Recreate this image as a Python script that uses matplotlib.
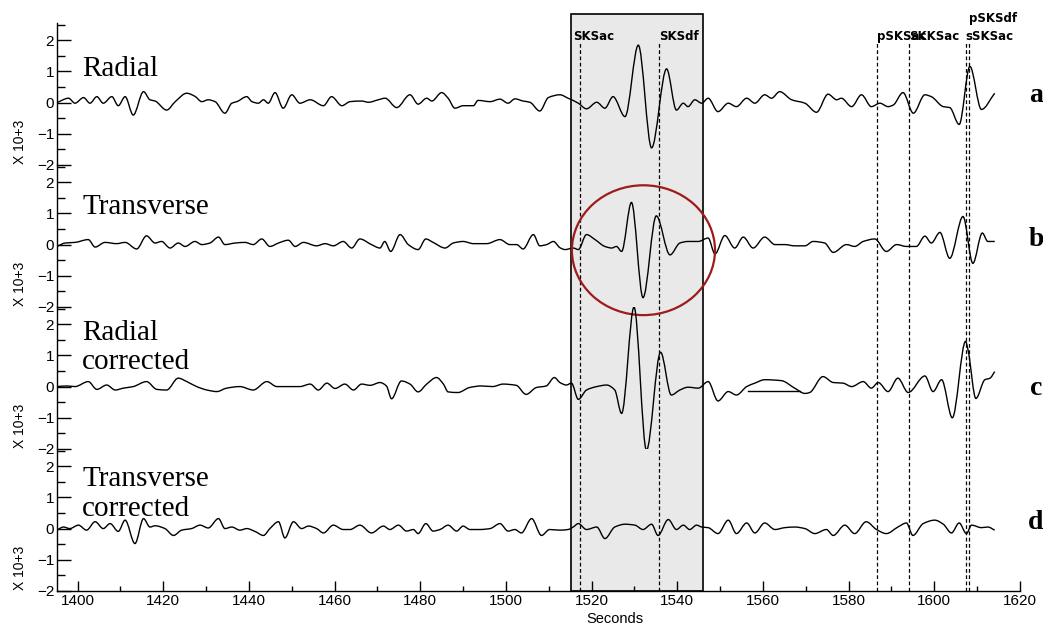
import numpy as np
import matplotlib
matplotlib.use("Agg")
import matplotlib.pyplot as plt
import matplotlib.transforms as mtransforms
from matplotlib.patches import Rectangle, Ellipse, PathPatch
from matplotlib.path import Path
from matplotlib.lines import Line2D
from matplotlib.ticker import MultipleLocator

plt.rcParams['font.family'] = ['Liberation Sans Narrow', 'Liberation Sans', 'DejaVu Sans']

# --- traces: time (s), amplitude (x 10^3) ---
rad_t = [1395.2, 1397.9, 1399.4, 1401.4, 1402.9, 1404.5, 1406.0, 1408.0, 1409.5, 1411.1,
         1413.0, 1415.4, 1416.9, 1418.1, 1420.8, 1422.8, 1425.5, 1427.4, 1429.0, 1430.5,
         1432.1, 1434.4, 1436.0, 1437.2, 1439.5, 1440.7, 1442.2, 1443.4, 1444.5, 1446.1,
         1448.0, 1450.0, 1451.9,
         1454.3, 1457.4, 1459.3, 1461.7, 1463.6, 1466.3, 1467.9, 1470.2, 1471.8, 1474.5,
         1477.6, 1479.5, 1481.5, 1482.7, 1485.0, 1486.5, 1488.1, 1490.0, 1492.4, 1493.5,
         1496.3, 1498.6, 1500.5, 1502.1, 1504.0, 1505.6, 1507.9, 1509.9, 1512.6,
         1514.5, 1516.9, 1518.8, 1521.2, 1523.1, 1525.0, 1527.8, 1530.9, 1534.0, 1537.5,
         1539.8, 1541.4, 1542.5, 1544.1, 1545.7, 1547.2, 1549.5, 1551.9, 1553.8, 1556.2,
         1558.1, 1560.4, 1562.0, 1563.9, 1566.7, 1569.8,
         1572.5, 1575.2, 1577.2, 1578.3, 1580.7, 1583.0, 1585.3, 1587.3, 1589.2, 1590.4,
         1592.7, 1595.1, 1597.8, 1599.3, 1602.1, 1603.6, 1605.8, 1608.3, 1611.0, 1614.1]
rad_v = [0.0, 0.14, -0.02, 0.16, -0.02, 0.19, -0.02, 0.19, -0.1, 0.19,
         -0.4, 0.35, 0.09, 0.05, -0.24, 0.03, 0.3, 0.2, 0.03, 0.09,
         0.03, -0.34, -0.02, 0.03, 0.19, 0.03, -0.02, 0.09, -0.02, 0.32,
         -0.18, 0.25, -0.02,
         0.09, -0.1, 0.19, -0.1, 0.03, 0.05, 0.01, 0.09, 0.14, -0.16,
         0.25, -0.05, 0.14, 0.05, 0.32, 0.14, -0.18, -0.1, -0.1, 0.07,
         0.03, 0.11, -0.02, 0.12, 0.05, 0.01, -0.27, 0.16, 0.25,
         0.14, -0.02, -0.2, 0.01, -0.18, 0.19, -0.45, 1.84, -1.45, 1.08,
         -0.24, -0.02, -0.13, 0.09, -0.02, 0.14, -0.29, -0.02, -0.13, 0.14,
         -0.02, 0.25, 0.14, 0.35, 0.09, -0.02,
         -0.31, 0.27, 0.09, 0.14, -0.13, 0.25, -0.13, -0.02, -0.13, -0.08,
         0.32, -0.34, 0.25, 0.19, -0.13, -0.16, -0.7, 1.16, -0.22, 0.3]

trn_t = [1395.2, 1397.1, 1399.4, 1402.5, 1404.1, 1406.4, 1409.1, 1411.1, 1413.8, 1416.1,
         1418.1, 1419.6, 1421.6, 1423.5, 1425.1, 1427.4, 1429.0, 1430.9, 1432.9, 1434.4,
         1436.8, 1439.1, 1441.0, 1443.0, 1444.9, 1446.9, 1449.2, 1450.8, 1452.7,
         1455.8, 1457.8, 1459.7, 1462.0, 1464.0, 1465.9, 1468.6, 1470.6, 1471.7, 1473.1,
         1475.3, 1477.2, 1479.5, 1481.3, 1483.0, 1485.8, 1487.7, 1490.0, 1492.4, 1495.5,
         1498.6, 1500.9, 1502.5, 1504.0, 1506.4, 1507.9, 1509.5, 1511.1, 1512.6,
         1513.8, 1515.7, 1516.9, 1518.8, 1520.8, 1523.1, 1524.7, 1525.8, 1527.0, 1529.3,
         1532.0, 1535.1, 1538.3, 1540.6, 1542.5, 1544.9, 1547.2, 1548.8, 1551.1, 1553.4,
         1555.4, 1557.7, 1560.4, 1562.8, 1565.1, 1567.4, 1569.8,
         1571.7, 1574.4, 1576.4, 1579.5, 1581.4, 1583.4, 1586.1, 1588.8, 1591.2, 1593.5,
         1595.8, 1597.8, 1599.3, 1601.3, 1603.6, 1606.7, 1609.0, 1611.2, 1612.5, 1614.1]
trn_v = [-0.06, 0.05, 0.07, 0.16, -0.08, 0.07, 0.03, 0.07, -0.14, 0.28,
         0.05, 0.1, -0.11, 0.05, -0.06, 0.1, 0.0, 0.05, 0.24, 0.0,
         0.05, 0.07, 0.0, 0.18, -0.06, 0.05, 0.14, -0.06, 0.07,
         -0.04, 0.03, -0.04, 0.1, -0.11, 0.18, 0.0, -0.11, 0.1, -0.22,
         0.32, 0.0, -0.16, 0.18, 0.07, -0.11, 0.05, 0.1, 0.03, 0.03,
         0.16, 0.0, 0.0, -0.14, 0.32, -0.04, 0.0, 0.1, -0.1,
         -0.16, -0.11, -0.16, 0.32, 0.16, -0.06, -0.11, -0.06, -0.22, 1.35,
         -1.7, 0.92, -0.33, 0.05, 0.1, 0.1, 0.21, -0.3, 0.29, -0.11,
         0.24, -0.11, 0.24, 0.0, 0.0, -0.04, -0.04,
         0.1, 0.05, -0.25, 0.0, -0.06, 0.1, 0.18, -0.22, 0.0, -0.06,
         -0.06, 0.27, 0.05, 0.39, -0.44, 0.9, -0.6, 0.37, 0.1, 0.1]

radc_t = [1395.2, 1397.5, 1399.4, 1402.5, 1404.5, 1406.8, 1408.8, 1410.7, 1413.0, 1416.1,
          1418.5, 1420.8, 1423.5, 1425.5, 1427.8, 1430.2, 1432.5, 1434.8, 1437.9, 1441.0,
          1444.2, 1446.5, 1449.6, 1451.9,
          1454.3, 1456.2, 1458.2, 1460.1, 1462.4, 1464.4, 1466.3, 1468.3, 1470.6, 1472.1,
          1473.3, 1475.6, 1477.6, 1479.5, 1481.5, 1483.8, 1485.4, 1486.5, 1488.8, 1491.5,
          1494.2, 1496.9, 1499.3, 1502.4, 1504.7, 1507.1, 1509.4, 1511.3, 1512.6,
          1514.1, 1515.3, 1516.9, 1518.8, 1521.2, 1523.5, 1525.4, 1527.0, 1529.9, 1532.8,
          1536.1, 1538.6, 1540.6, 1542.5, 1544.9, 1547.2, 1549.5, 1551.9, 1553.8, 1556.2,
          1558.1, 1560.4, 1564.3, 1567.4, 1569.8,
          1570.9, 1574.0, 1576.4, 1578.7, 1580.7, 1583.4, 1585.3, 1586.9, 1589.2, 1591.5,
          1593.9, 1597.8, 1599.7, 1601.7, 1604.2, 1607.3, 1607.9, 1609.7, 1611.8, 1613.0,
          1614.1]
radc_v = [0.0, 0.02, 0.0, 0.16, -0.09, 0.05, -0.11, -0.05, 0.0, 0.16,
          -0.09, -0.11, 0.27, 0.16, 0.0, -0.11, -0.16, -0.05, 0.0, -0.11,
          0.16, 0.0, 0.0, 0.0,
          0.08, -0.11, 0.11, -0.06, 0.08, -0.11, 0.08, 0.04, 0.13, 0.02,
          -0.39, 0.18, 0.08, -0.17, 0.08, 0.29, 0.08, -0.17, -0.19, -0.03,
          0.02, 0.0, 0.08, 0.04, -0.25, -0.03, 0.02, 0.29, 0.13,
          0.05, 0.11, -0.41, -0.11, 0.0, 0.05, -0.11, -0.86, 2.55, -2.04,
          1.1, -0.27, -0.11, -0.02, -0.05, 0.16, -0.46, -0.16, -0.27, 0.0,
          0.11, 0.22, 0.19, -0.05, -0.22,
          -0.19, 0.32, 0.13, 0.11, 0.0, 0.16, -0.05, 0.13, -0.16, 0.27,
          -0.19, 0.34, -0.16, 0.22, -1.0, 1.45, 1.15, -0.38, 0.22, 0.27,
          0.48]
# stray flat segment drawn under the radial-corrected trace
radc_flat_t = [1556.5, 1568.7]
radc_flat_v = [-0.13, -0.13]

trnc_t = [1395.2, 1396.7, 1398.2, 1400.2, 1402.1, 1404.1, 1406.0, 1407.6, 1409.5, 1411.1,
          1413.4, 1415.4, 1416.9, 1418.1, 1420.4, 1422.4, 1424.3, 1426.6, 1428.6, 1430.5,
          1432.9, 1434.4, 1436.0, 1437.9, 1439.5, 1441.4, 1443.4, 1444.9, 1446.9, 1448.4,
          1450.4, 1452.3,
          1453.9, 1455.8, 1457.4, 1459.7, 1462.0, 1463.6, 1465.9, 1468.6, 1471.4, 1472.9,
          1474.9, 1476.8, 1478.4, 1479.5, 1481.3, 1483.0, 1484.6, 1486.5, 1488.5, 1490.0,
          1491.6, 1493.9, 1496.3, 1498.6, 1500.5, 1502.1, 1503.6, 1506.0, 1508.3, 1510.2,
          1512.6,
          1514.5, 1515.7, 1516.9, 1518.8, 1521.2, 1523.1, 1525.4, 1527.8, 1530.1, 1532.0,
          1534.0, 1535.5, 1537.9, 1539.8, 1541.4, 1542.9, 1544.5, 1545.7, 1547.2, 1549.5,
          1551.9, 1553.8, 1556.2, 1558.1, 1560.4, 1562.8, 1565.1, 1567.4, 1569.8,
          1572.1, 1574.8, 1576.4, 1579.1, 1581.4, 1584.1, 1586.5, 1588.8, 1591.5, 1593.5,
          1595.0, 1597.4, 1600.1, 1602.1, 1604.0, 1605.8, 1607.5, 1608.7, 1611.0, 1612.5,
          1614.1]
trnc_v = [-0.05, 0.05, 0.0, 0.11, -0.05, 0.22, 0.0, 0.16, -0.09, 0.27,
          -0.48, 0.32, 0.05, 0.09, 0.0, -0.22, -0.05, 0.0, 0.11, 0.02,
          0.32, 0.0, 0.05, -0.05, 0.0, -0.09, -0.22, 0.0, 0.22, -0.3,
          0.22, 0.0,
          0.08, 0.0, -0.14, 0.11, -0.03, -0.03, 0.11, -0.14, 0.08, -0.03,
          0.11, -0.08, -0.03, -0.16, 0.16, -0.08, -0.03, 0.11, -0.08, 0.08,
          -0.03, -0.03, 0.0, 0.16, -0.08, -0.03, -0.14, 0.32, -0.22, -0.03,
          -0.05,
          -0.03, 0.05, 0.16, -0.03, 0.05, -0.32, 0.05, 0.14, 0.11, -0.03,
          0.14, -0.22, 0.29, -0.03, 0.11, -0.03, 0.11, 0.05, 0.03, -0.16,
          0.27, -0.16, 0.18, -0.14, 0.18, -0.03, 0.03, 0.05, 0.0,
          -0.16, -0.03, -0.22, 0.11, -0.16, 0.22, -0.03, -0.16, 0.05, 0.18,
          -0.22, 0.16, 0.27, 0.14, -0.14, 0.18, -0.16, 0.11, 0.03, 0.05,
          -0.05]

panel_titles = ["Radial", "Transverse", "Radial\ncorrected", "Transverse\ncorrected"]
panel_letters = ["a", "b", "c", "d"]

# phase picks (s) and their labels
phase_names = ["SKSac", "SKSdf", "pSKSac", "SKKSac", "sSKSac", "pSKSdf"]
phase_times = [1517.3, 1535.7, 1586.65, 1594.05, 1607.35, 1608.1]
phase_row = [0, 0, 0, 0, 0, 1]          # 1 = upper label row
phase_dx = [-7, 0, 0, 0, 0, 0]          # label shift in pixels

window = (1515.3, 1545.9)               # shaded analysis window
xlim = (1395.2, 1620)
ylim = (-2, 2.55)


def trace_path(t, v):
    # draw the picked samples as a smooth line: cubic pieces through every sample,
    # flat at local extrema so the wiggles stay rounded without overshoot
    x = np.asarray(t, float)
    y = np.asarray(v, float)
    h = np.diff(x)
    d = np.diff(y) / h
    m = np.zeros_like(y)
    m[0], m[-1] = d[0], d[-1]
    for k in range(1, len(y) - 1):
        if d[k - 1] * d[k] > 0:
            w1 = 2 * h[k] + h[k - 1]
            w2 = h[k] + 2 * h[k - 1]
            m[k] = (w1 + w2) / (w1 / d[k - 1] + w2 / d[k])
    verts, codes = [(x[0], y[0])], [Path.MOVETO]
    for k in range(len(x) - 1):
        verts += [(x[k] + h[k] / 3, y[k] + m[k] * h[k] / 3),
                  (x[k + 1] - h[k] / 3, y[k + 1] - m[k + 1] * h[k] / 3),
                  (x[k + 1], y[k + 1])]
        codes += [Path.CURVE4] * 3
    return Path(verts, codes)


W, H = 1043.0, 624.0
fig = plt.figure(figsize=(W / 100, H / 100), dpi=100)

ax_left = 57 / W
ax_w = (1020 - 57) / W
ph = 142 / H
bot = 33 / H

series = [(rad_t, rad_v), (trn_t, trn_v), (radc_t, radc_v), (trnc_t, trnc_v)]
title_y = [1.5, 1.62, 2.14, 2.0]
letter_y = [0.22, 0.15, -0.05, 0.18]

axes = []
for i in range(4):
    y0 = bot + (3 - i) * ph
    ax = fig.add_axes([ax_left, y0, ax_w, ph])
    ax.set_facecolor('none')
    ax.set_xlim(*xlim)
    ax.set_ylim(*ylim)
    for s in ['top', 'right', 'bottom']:
        ax.spines[s].set_visible(False)
    ax.spines['left'].set_linewidth(1.0)
    ax.yaxis.set_major_locator(MultipleLocator(1))
    ax.yaxis.set_minor_locator(MultipleLocator(0.5))
    ax.tick_params(axis='y', which='major', direction='in', length=10, width=1,
                   labelsize=11, pad=2)
    ax.tick_params(axis='y', which='minor', direction='in', length=5.5, width=1)
    t, v = series[i]
    ax.add_patch(PathPatch(trace_path(t, v), fill=False, edgecolor='black', lw=1.0,
                           zorder=3))
    ax.text(1401.05, title_y[i], panel_titles[i], family='Liberation Serif',
            fontsize=21, ha='left', va='top', linespacing=1.18)
    # letter at the right margin
    tr = mtransforms.blended_transform_factory(fig.transFigure, ax.transData)
    ax.text(1036 / W, letter_y[i], panel_letters[i], transform=tr,
            family='Liberation Serif', fontweight='bold', fontsize=20,
            ha='center', va='center')
    fig.text(20 / W, y0 + 1 / H, "X 10+3", rotation=90, fontsize=10,
             ha='center', va='bottom')
    axes.append(ax)

axes[2].plot(radc_flat_t, radc_flat_v, color='black', lw=1.0)

for ax in axes[:3]:
    ax.xaxis.set_visible(False)

axd = axes[3]
axd.spines['bottom'].set_visible(True)
axd.spines['bottom'].set_linewidth(1.0)
axd.xaxis.set_major_locator(MultipleLocator(20))
axd.xaxis.set_minor_locator(MultipleLocator(10))
axd.tick_params(axis='x', which='major', direction='in', length=7, width=1,
                labelsize=11, pad=2)
axd.tick_params(axis='x', which='minor', direction='in', length=3.5, width=1)
fig.text(615 / W, 1 - 619 / H, "Seconds", fontsize=10.5, ha='center', va='center')

# shaded window and phase markers span all panels
blend = mtransforms.blended_transform_factory(axd.transData, fig.transFigure)
box = Rectangle((window[0], bot), window[1] - window[0], (H - 14) / H - bot,
                transform=blend, facecolor='#e9e9e9', edgecolor='black', lw=1.2,
                zorder=-2)
fig.add_artist(box)

row_y = [1 - 40 / H, 1 - 22 / H]
for name, tp, row, dx in zip(phase_names, phase_times, phase_row, phase_dx):
    ln = Line2D([tp, tp], [bot, 1 - 42 / H], transform=blend, color='black', lw=0.9,
                linestyle=(0, (3, 2)), zorder=-1)
    fig.add_artist(ln)
    off = mtransforms.offset_copy(blend, fig=fig, x=dx, y=0, units='dots')
    fig.text(tp, row_y[row], name, transform=off, family='DejaVu Sans',
             fontweight='bold', fontsize=8.5, ha='left', va='baseline')

# highlight of the split arrivals on the transverse trace
ell = Ellipse((1532.1, -0.18), 33.4, 4.16, fill=False, edgecolor='#9e1b1b',
              lw=1.6, clip_on=False, zorder=6)
axes[1].add_patch(ell)

fig.savefig("out.png", dpi=100)
